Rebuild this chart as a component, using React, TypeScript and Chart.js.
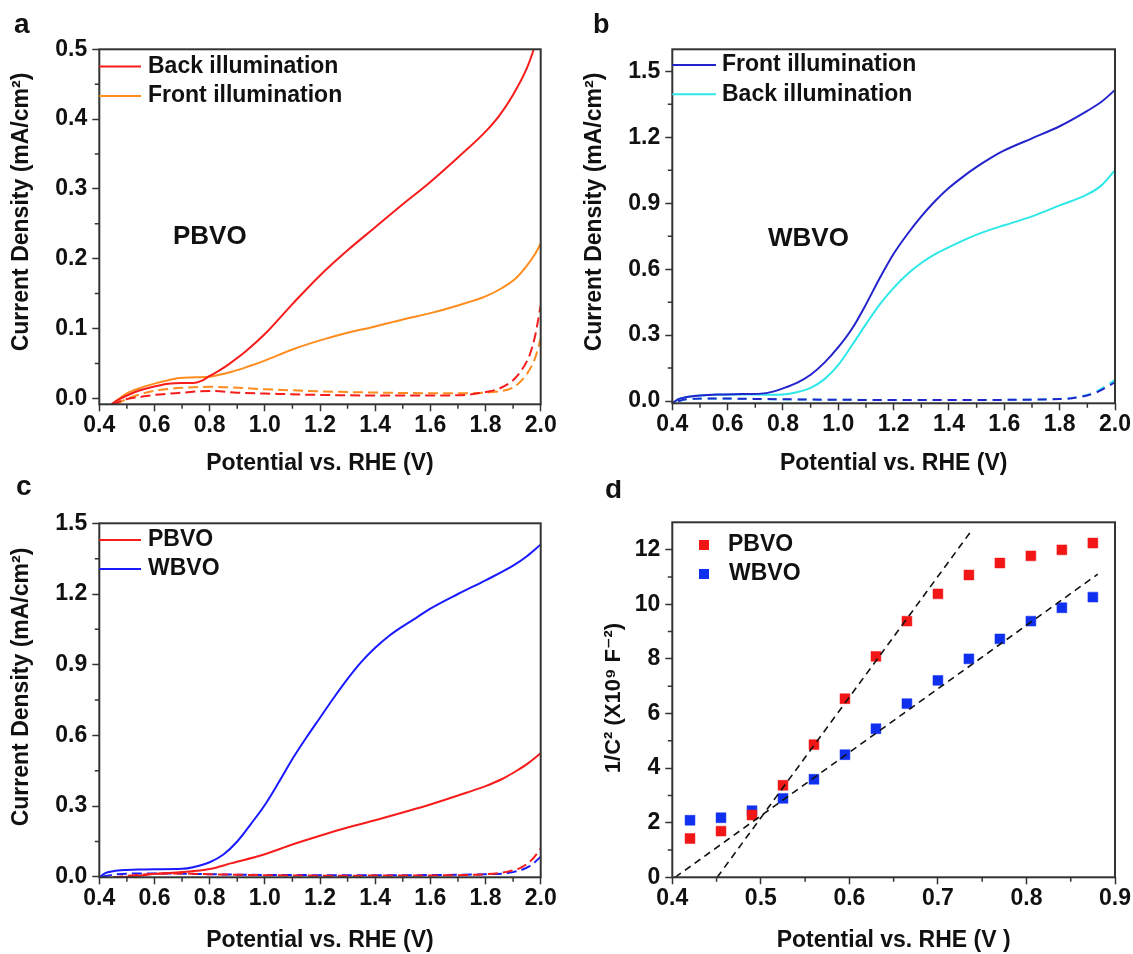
import { useEffect, useRef } from 'react';
import { Chart, registerables } from 'chart.js';

Chart.register(...registerables);

type P = [number, number];

// ---------------- Panel a : PBVO ----------------
const aBackLight: P[] = [[0.443,-0.009],[0.47,-0.002],[0.50,0.004],[0.53,0.009],[0.56,0.013],[0.60,0.017],[0.65,0.021],[0.70,0.022],[0.74,0.022],[0.77,0.025],[0.80,0.032],[0.84,0.041],[0.87,0.049],[0.93,0.067],[1.00,0.092],[1.10,0.135],[1.20,0.176],[1.30,0.212],[1.40,0.245],[1.50,0.278],[1.60,0.31],[1.70,0.345],[1.80,0.382],[1.85,0.405],[1.90,0.435],[1.95,0.473],[1.975,0.500],[2.0,0.535]];
const aFrontLight: P[] = [[0.443,-0.009],[0.47,-0.001],[0.50,0.007],[0.55,0.015],[0.60,0.021],[0.65,0.026],[0.69,0.029],[0.75,0.030],[0.80,0.031],[0.88,0.038],[0.95,0.047],[1.00,0.054],[1.10,0.070],[1.20,0.083],[1.30,0.094],[1.40,0.103],[1.50,0.113],[1.60,0.122],[1.70,0.133],[1.80,0.146],[1.86,0.158],[1.91,0.172],[1.95,0.19],[1.98,0.207],[2.0,0.222]];
const aBackDark: P[] = [[0.445,-0.009],[0.50,-0.001],[0.55,0.002],[0.60,0.0048],[0.70,0.008],[0.80,0.0106],[0.90,0.008],[1.00,0.0068],[1.20,0.0048],[1.40,0.004],[1.60,0.0039],[1.70,0.0043],[1.80,0.009],[1.85,0.014],[1.90,0.026],[1.93,0.04],[1.96,0.062],[1.98,0.09],[2.0,0.133]];
const aFrontDark: P[] = [[0.46,-0.009],[0.50,-0.001],[0.55,0.006],[0.60,0.0106],[0.70,0.015],[0.80,0.0164],[1.00,0.013],[1.20,0.010],[1.40,0.0082],[1.70,0.0072],[1.80,0.008],[1.85,0.010],[1.90,0.0155],[1.95,0.035],[1.98,0.058],[2.0,0.0855]];
const aXTicks = [0.4, 0.6, 0.8, 1.0, 1.2, 1.4, 1.6, 1.8, 2.0];
const aYTicks = [0.0, 0.1, 0.2, 0.3, 0.4, 0.5];

// ---------------- Panel b : WBVO ----------------
const bFrontLight: P[] = [[0.403,-0.008],[0.42,0.008],[0.45,0.018],[0.50,0.025],[0.56,0.030],[0.65,0.032],[0.72,0.034],[0.76,0.042],[0.80,0.058],[0.85,0.083],[0.90,0.12],[0.95,0.175],[1.00,0.245],[1.05,0.33],[1.10,0.44],[1.15,0.56],[1.20,0.67],[1.25,0.76],[1.30,0.84],[1.35,0.91],[1.40,0.97],[1.45,1.02],[1.50,1.065],[1.55,1.105],[1.60,1.14],[1.70,1.195],[1.80,1.25],[1.90,1.32],[1.95,1.36],[2.0,1.415]];
const bBackLight: P[] = [[0.403,-0.008],[0.42,0.008],[0.45,0.018],[0.50,0.025],[0.56,0.029],[0.65,0.030],[0.75,0.029],[0.80,0.030],[0.85,0.04],[0.90,0.06],[0.95,0.10],[1.00,0.165],[1.05,0.255],[1.10,0.35],[1.15,0.44],[1.20,0.515],[1.25,0.578],[1.30,0.628],[1.35,0.668],[1.40,0.70],[1.45,0.73],[1.50,0.757],[1.55,0.78],[1.60,0.80],[1.70,0.84],[1.80,0.89],[1.90,0.94],[1.95,0.98],[2.0,1.05]];
const bFrontDark: P[] = [[0.42,0.0],[0.45,0.008],[0.55,0.012],[0.70,0.010],[1.00,0.006],[1.40,0.005],[1.80,0.009],[1.87,0.018],[1.93,0.038],[2.0,0.085]];
const bBackDark: P[] = [[0.42,0.0],[0.45,0.007],[0.55,0.011],[0.70,0.009],[1.00,0.006],[1.40,0.005],[1.80,0.010],[1.87,0.020],[1.93,0.042],[2.0,0.095]];
const bXTicks = [0.4, 0.6, 0.8, 1.0, 1.2, 1.4, 1.6, 1.8, 2.0];
const bYTicks = [0.0, 0.3, 0.6, 0.9, 1.2, 1.5];

// ---------------- Panel c : comparison ----------------
const cPBVOLight: P[] = [[0.45,-0.003],[0.50,0.0],[0.56,0.007],[0.60,0.013],[0.70,0.020],[0.80,0.033],[0.88,0.058],[1.00,0.096],[1.10,0.137],[1.20,0.174],[1.30,0.209],[1.40,0.240],[1.50,0.273],[1.60,0.307],[1.70,0.345],[1.80,0.385],[1.86,0.415],[1.91,0.448],[1.95,0.478],[2.0,0.524]];
const cWBVOLight: P[] = [[0.40,-0.003],[0.42,0.015],[0.45,0.024],[0.50,0.029],[0.56,0.031],[0.60,0.032],[0.70,0.034],[0.74,0.041],[0.80,0.062],[0.85,0.095],[0.90,0.15],[0.95,0.225],[1.00,0.305],[1.05,0.40],[1.10,0.50],[1.15,0.59],[1.20,0.675],[1.25,0.76],[1.30,0.84],[1.35,0.912],[1.40,0.972],[1.45,1.022],[1.50,1.063],[1.55,1.10],[1.60,1.138],[1.70,1.2],[1.80,1.258],[1.90,1.32],[1.95,1.36],[2.0,1.41]];
const cPBVODark: P[] = [[0.45,-0.003],[0.50,0.004],[0.60,0.012],[0.70,0.014],[0.80,0.011],[1.00,0.007],[1.20,0.005],[1.60,0.006],[1.80,0.011],[1.88,0.022],[1.93,0.040],[1.97,0.075],[2.0,0.12]];
const cWBVODark: P[] = [[0.41,0.0],[0.45,0.009],[0.55,0.014],[0.65,0.014],[0.80,0.011],[1.00,0.008],[1.40,0.007],[1.80,0.011],[1.90,0.020],[1.96,0.045],[2.0,0.085]];
const cXTicks = [0.4, 0.6, 0.8, 1.0, 1.2, 1.4, 1.6, 1.8, 2.0];
const cYTicks = [0.0, 0.3, 0.6, 0.9, 1.2, 1.5];

// ---------------- Panel d : Mott-Schottky ----------------
const dPotential = [0.42, 0.455, 0.49, 0.525, 0.56, 0.595, 0.63, 0.665, 0.70, 0.735, 0.77, 0.805, 0.84, 0.875];
const dPBVO = [1.42, 1.69, 2.28, 3.37, 4.86, 6.54, 8.09, 9.38, 10.38, 11.07, 11.51, 11.77, 11.99, 12.24];
const dWBVO = [2.09, 2.18, 2.44, 2.89, 3.59, 4.49, 5.44, 6.36, 7.21, 8.0, 8.73, 9.38, 9.87, 10.26];
const dFitPBVO: P[] = [[0.4507, 0], [0.7378, 12.69]];
const dFitWBVO: P[] = [[0.4032, 0], [0.8805, 11.1]];
const dXTicks = [0.4, 0.5, 0.6, 0.7, 0.8, 0.9];
const dYTicks = [0, 2, 4, 6, 8, 10, 12];

// ---------------- styles ----------------
const FONT = "'Liberation Sans', Arial, 'DejaVu Sans', sans-serif";
const RED = '#f61c1c';
const ORANGE = '#ff8c1f';
const DARKBLUE = '#2424cc';
const CYAN = '#2ee8e8';
const BLUE = '#1a1aff';
const SQ_RED = '#f21616';
const SQ_BLUE = '#1030f0';
const AXIS = '#333333';
const TEXT = '#111111';

const toXY = (pts: P[]) => pts.map(([x, y]) => ({ x, y }));
const zipXY = (xs: number[], ys: number[]) => xs.map((x, i) => ({ x, y: ys[i] }));
const mids = (t: number[]) => t.slice(1).map((v, i) => (v + t[i]) / 2);

const curve = (pts: P[], color: string, dashed: boolean, dash: number[] = [10, 5]) => ({
  data: toXY(pts),
  borderColor: color,
  backgroundColor: color,
  borderWidth: 2,
  borderDash: dashed ? dash : [],
  showLine: true,
  pointRadius: 0,
  cubicInterpolationMode: 'monotone',
  fill: false,
});

const framePlugin = {
  id: 'frame',
  afterDraw(chart: any, _args: any, opts: any) {
    const { ctx, chartArea } = chart;
    const { left, top, right, bottom } = chartArea;
    const xs = chart.scales.x;
    const ys = chart.scales.y;
    ctx.save();
    ctx.setLineDash([]);
    ctx.strokeStyle = AXIS;
    ctx.lineWidth = 1.5;
    ctx.beginPath();
    for (const v of opts.xMinor) {
      const px = xs.getPixelForValue(v);
      ctx.moveTo(px, bottom);
      ctx.lineTo(px, bottom + 4.5);
    }
    for (const v of opts.yMinor) {
      const py = ys.getPixelForValue(v);
      ctx.moveTo(left, py);
      ctx.lineTo(left - 4.5, py);
    }
    ctx.stroke();
    ctx.lineWidth = 2;
    ctx.strokeRect(left, top, right - left, bottom - top);
    ctx.restore();
  },
};

const notesPlugin = {
  id: 'notes',
  afterDraw(chart: any, _args: any, opts: any) {
    const ctx = chart.ctx;
    ctx.save();
    ctx.setLineDash([]);
    for (const t of opts.texts || []) {
      ctx.save();
      ctx.font = t.font;
      ctx.fillStyle = TEXT;
      ctx.textAlign = t.align || 'left';
      ctx.textBaseline = t.baseline || 'middle';
      ctx.translate(t.x, t.y);
      if (t.rotate) ctx.rotate(t.rotate);
      ctx.fillText(t.text, 0, 0);
      ctx.restore();
    }
    for (const l of opts.legend || []) {
      if (l.kind === 'square') {
        ctx.fillStyle = l.color;
        ctx.fillRect(l.x0 - 5, l.y - 5, 10, 10);
      } else {
        ctx.strokeStyle = l.color;
        ctx.lineWidth = 2;
        ctx.beginPath();
        ctx.moveTo(l.x0, l.y);
        ctx.lineTo(l.x1, l.y);
        ctx.stroke();
      }
      ctx.fillStyle = TEXT;
      ctx.font = `bold 23px ${FONT}`;
      ctx.textAlign = 'left';
      ctx.textBaseline = 'middle';
      ctx.fillText(l.text, l.tx, l.y);
    }
    ctx.restore();
  },
};

interface Spec {
  box: { left: number; top: number; w: number; h: number };
  area: { l: number; t: number; r: number; b: number };
  x: [number, number];
  y: [number, number];
  xTicks: number[];
  yTicks: number[];
  xDigits: number;
  yDigits: number;
  xTitle: string;
  xTitlePad: number;
  datasets: any[];
  texts: any[];
  legend: any[];
}

const tickFont = { family: FONT, size: 23, weight: 'bold' as const };
const titleFont = { family: FONT, size: 23, weight: 'bold' as const, lineHeight: 1.2 };

function buildConfig(s: Spec): any {
  const ox = s.box.left;
  const oy = s.box.top;
  const yAxisW = s.area.l - ox;
  const xAxisH = oy + s.box.h - s.area.b;
  return {
    type: 'scatter',
    data: { datasets: s.datasets },
    options: {
      responsive: false,
      animation: false,
      events: [],
      layout: { padding: { left: 0, top: s.area.t - oy, right: ox + s.box.w - s.area.r, bottom: 0 } },
      plugins: {
        legend: { display: false },
        tooltip: { enabled: false },
        frame: { xMinor: mids(s.xTicks), yMinor: mids(s.yTicks) },
        notes: {
          texts: s.texts.map((t) => ({ ...t, x: t.x - ox, y: t.y - oy })),
          legend: s.legend.map((l) => ({ ...l, x0: l.x0 - ox, x1: (l.x1 ?? 0) - ox, tx: l.tx - ox, y: l.y - oy })),
        },
      },
      scales: {
        x: {
          type: 'linear',
          min: s.x[0],
          max: s.x[1],
          afterFit: (sc: any) => { sc.height = xAxisH; },
          afterBuildTicks: (sc: any) => { sc.ticks = s.xTicks.map((v) => ({ value: v })); },
          ticks: {
            callback: (v: any) => Number(v).toFixed(s.xDigits),
            font: tickFont,
            color: TEXT,
            padding: 1,
            maxRotation: 0,
            autoSkip: false,
          },
          grid: { drawOnChartArea: false, drawTicks: true, tickLength: 7, tickColor: AXIS, tickWidth: 1.5 },
          border: { display: false },
          title: { display: true, text: s.xTitle, font: titleFont, color: TEXT, padding: { top: 0, bottom: s.xTitlePad } },
        },
        y: {
          type: 'linear',
          min: s.y[0],
          max: s.y[1],
          afterFit: (sc: any) => { sc.width = yAxisW; },
          afterBuildTicks: (sc: any) => { sc.ticks = s.yTicks.map((v) => ({ value: v })); },
          ticks: {
            callback: (v: any) => Number(v).toFixed(s.yDigits),
            font: tickFont,
            color: TEXT,
            padding: 5,
            autoSkip: false,
          },
          grid: { drawOnChartArea: false, drawTicks: true, tickLength: 7, tickColor: AXIS, tickWidth: 1.5 },
          border: { display: false },
          title: { display: false },
        },
      },
    },
    plugins: [framePlugin, notesPlugin],
  };
}

const ROT = -Math.PI / 2;
const JTITLE = 'Current Density (mA/cm²)';
const VTITLE = 'Potential vs. RHE (V)';

const specs: Spec[] = [
  {
    box: { left: 0, top: 0, w: 566, h: 480 },
    area: { l: 99.3, t: 49.3, r: 540.7, b: 404.3 },
    x: [0.4, 2.0], y: [-0.0086, 0.5],
    xTicks: aXTicks, yTicks: aYTicks, xDigits: 1, yDigits: 1,
    xTitle: VTITLE, xTitlePad: 3,
    datasets: [
      curve(aBackLight, RED, false),
      curve(aFrontLight, ORANGE, false),
      curve(aBackDark, RED, true),
      curve(aFrontDark, ORANGE, true),
    ],
    texts: [
      { text: 'a', x: 14, y: 33, font: `bold 28px ${FONT}`, baseline: 'alphabetic' },
      { text: 'PBVO', x: 173, y: 237, font: `bold 26px ${FONT}` },
      { text: JTITLE, x: 22, y: 212, font: `bold 23px ${FONT}`, rotate: ROT, align: 'center' },
    ],
    legend: [
      { x0: 99.3, x1: 141, tx: 148, y: 66.5, color: RED, text: 'Back illumination' },
      { x0: 99.3, x1: 141, tx: 148, y: 96, color: ORANGE, text: 'Front illumination' },
    ],
  },
  {
    box: { left: 566, top: 0, w: 567, h: 480 },
    area: { l: 672.3, t: 49.3, r: 1115, b: 403.3 },
    x: [0.4, 2.0], y: [-0.01, 1.6],
    xTicks: bXTicks, yTicks: bYTicks, xDigits: 1, yDigits: 1,
    xTitle: VTITLE, xTitlePad: 3,
    datasets: [
      curve(bFrontLight, DARKBLUE, false),
      curve(bBackLight, CYAN, false),
      curve(bFrontDark, DARKBLUE, true, [9, 6]),
      curve(bBackDark, CYAN, true, [9, 6]),
    ],
    texts: [
      { text: 'b', x: 593, y: 33, font: `bold 27px ${FONT}`, baseline: 'alphabetic' },
      { text: 'WBVO', x: 768, y: 239, font: `bold 26px ${FONT}` },
      { text: JTITLE, x: 595, y: 212, font: `bold 23px ${FONT}`, rotate: ROT, align: 'center' },
    ],
    legend: [
      { x0: 672.3, x1: 716, tx: 722, y: 65, color: DARKBLUE, text: 'Front illumination' },
      { x0: 672.3, x1: 716, tx: 722, y: 94.3, color: CYAN, text: 'Back illumination' },
    ],
  },
  {
    box: { left: 0, top: 480, w: 566, h: 474 },
    area: { l: 99.3, t: 523.3, r: 540.7, b: 877.3 },
    x: [0.4, 2.0], y: [-0.002, 1.5],
    xTicks: cXTicks, yTicks: cYTicks, xDigits: 1, yDigits: 1,
    xTitle: VTITLE, xTitlePad: 0,
    datasets: [
      curve(cPBVOLight, RED, false),
      curve(cWBVOLight, BLUE, false),
      curve(cPBVODark, RED, true),
      curve(cWBVODark, BLUE, true),
    ],
    texts: [
      { text: 'c', x: 16, y: 495, font: `bold 28px ${FONT}`, baseline: 'alphabetic' },
      { text: JTITLE, x: 22, y: 687, font: `bold 23px ${FONT}`, rotate: ROT, align: 'center' },
    ],
    legend: [
      { x0: 99.3, x1: 141, tx: 148, y: 540, color: RED, text: 'PBVO' },
      { x0: 99.3, x1: 141, tx: 148, y: 569, color: BLUE, text: 'WBVO' },
    ],
  },
  {
    box: { left: 566, top: 480, w: 567, h: 474 },
    area: { l: 672.3, t: 522.3, r: 1115, b: 877.3 },
    x: [0.4, 0.9], y: [0, 13],
    xTicks: dXTicks, yTicks: dYTicks, xDigits: 1, yDigits: 0,
    xTitle: 'Potential vs. RHE (V )', xTitlePad: 0,
    datasets: [
      curve(dFitPBVO, '#111111', true, [7, 5]),
      curve(dFitWBVO, '#111111', true, [7, 5]),
      { data: zipXY(dPotential, dPBVO), showLine: false, pointStyle: 'rect', pointRadius: 7, pointBorderWidth: 0.5, borderColor: SQ_RED, backgroundColor: SQ_RED },
      { data: zipXY(dPotential, dWBVO), showLine: false, pointStyle: 'rect', pointRadius: 7, pointBorderWidth: 0.5, borderColor: SQ_BLUE, backgroundColor: SQ_BLUE },
    ].map((d: any) => ({ ...d, borderWidth: d.showLine ? 1.6 : 0.5 })),
    texts: [
      { text: 'd', x: 605, y: 498, font: `bold 28px ${FONT}`, baseline: 'alphabetic' },
      { text: '1/C² (X10⁹ F⁻²)', x: 614, y: 698, font: `bold 22px ${FONT}`, rotate: ROT, align: 'center' },
    ],
    legend: [
      { kind: 'square', x0: 704, tx: 728, y: 545, color: SQ_RED, text: 'PBVO' },
      { kind: 'square', x0: 704, tx: 729, y: 574, color: SQ_BLUE, text: 'WBVO' },
    ],
  },
];

function Panel({ spec }: { spec: Spec }) {
  const ref = useRef<HTMLCanvasElement | null>(null);
  useEffect(() => {
    if (!ref.current) return;
    const chart = new Chart(ref.current, buildConfig(spec));
    return () => chart.destroy();
  }, [spec]);
  return (
    <canvas
      ref={ref}
      width={spec.box.w}
      height={spec.box.h}
      style={{ position: 'absolute', left: spec.box.left, top: spec.box.top, width: spec.box.w, height: spec.box.h }}
    />
  );
}

export default function App() {
  Chart.defaults.font.family = FONT;
  return (
    <div style={{ position: 'absolute', left: 0, top: 0, width: 1133, height: 954, background: '#fff', overflow: 'hidden' }}>
      {specs.map((s, i) => (
        <Panel key={i} spec={s} />
      ))}
    </div>
  );
}
